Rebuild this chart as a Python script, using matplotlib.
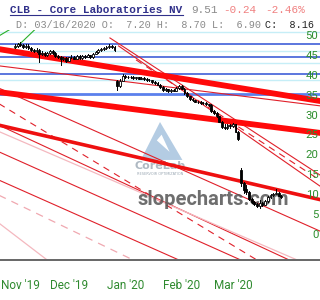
import matplotlib
matplotlib.use("Agg")
import matplotlib.pyplot as plt
from matplotlib.patches import Polygon, Rectangle
import numpy as np

# daily candles, trading-day index 0 = 1 Nov 2019
opens = [47.2, 47.5, 48.0, 47.8, 47.2, 47.6, 47.0, 46.5, 46.3, 46.6,
         45.5, 45.8, 45.2, 45.6, 46.2, 45.8, 45.0, 44.8, 44.2, 44.5,
         43.8, 44.6, 44.8, 44.3, 44.9, 44.4, 45.0, 44.7, 45.2, 44.6,
         45.5, 46.0, 46.4, 46.8, 47.0, 47.3, 47.6, 47.2, 38.8, 37.5,
         38.8, 40.0, 39.8, 39.6, 39.8, 39.5, 39.6, 39.3, 39.5, 39.2,
         39.0, 38.9, 38.5, 38.2, 37.8, 37.2, 36.4, 36.6, 36.2, 36.5,
         36.3, 37.0, 37.5, 36.8, 35.6, 34.8, 34.2, 33.8, 33.5, 33.4,
         33.2, 33.1, 32.9, 32.7, 31.2, 30.6, 29.8, 28.5, 27.2, 26.8,
         27.6, 27.3, 27.8, 26.0, 16.4, 13.0, 11.5, 10.8, 9.0, 8.2,
         7.8, 7.2, 8.1, 7.6, 8.5, 9.5, 10.0, 10.3, 10.6, 9.9]
closes = [47.5, 48.0, 47.8, 47.2, 47.6, 47.0, 46.5, 46.3, 46.6, 45.5,
          45.8, 45.2, 45.6, 46.2, 45.8, 45.0, 44.8, 44.2, 44.5, 43.8,
          44.6, 44.8, 44.3, 44.9, 44.4, 45.0, 44.7, 45.2, 44.6, 45.5,
          46.0, 46.4, 46.8, 47.0, 47.3, 47.6, 47.2, 46.5, 37.5, 38.8,
          40.0, 39.8, 39.6, 39.8, 39.5, 39.6, 39.3, 39.5, 39.2, 39.0,
          38.9, 38.5, 38.2, 37.8, 37.2, 36.4, 36.6, 36.2, 36.5, 36.3,
          37.0, 37.5, 36.8, 35.6, 34.8, 34.2, 33.8, 33.5, 33.4, 33.2,
          33.1, 32.9, 32.7, 31.2, 30.6, 29.8, 28.5, 27.2, 26.8, 27.6,
          27.3, 27.8, 26.0, 24.2, 13.0, 11.2, 10.8, 9.0, 8.2, 7.8,
          7.2, 8.16, 7.6, 8.5, 9.5, 10.0, 10.3, 10.6, 9.9, 9.51]
highs = [48.0, 48.3, 48.4, 48.1, 47.9, 47.9, 47.3, 46.8, 46.9, 46.8,
         46.2, 46.0, 45.9, 46.5, 46.4, 46.0, 45.3, 45.0, 44.8, 44.7,
         44.8, 45.1, 45.0, 45.2, 45.1, 45.3, 45.2, 45.5, 45.3, 45.8,
         46.3, 46.7, 47.1, 47.3, 47.6, 47.9, 47.8, 47.4, 39.0, 39.2,
         40.4, 40.2, 40.0, 40.0, 39.9, 39.8, 39.7, 39.7, 39.6, 39.4,
         39.2, 39.0, 38.6, 38.4, 38.0, 37.4, 36.9, 36.8, 36.7, 36.7,
         37.2, 37.8, 37.6, 36.9, 35.8, 35.0, 34.4, 34.0, 33.7, 33.6,
         33.4, 33.3, 33.0, 32.8, 31.4, 30.8, 30.0, 28.7, 27.8, 27.9,
         27.9, 28.2, 27.9, 26.2, 16.8, 13.3, 12.5, 11.0, 9.2, 8.6,
         8.0, 8.7, 8.3, 8.8, 9.8, 10.3, 10.6, 11.5, 10.7, 10.1]
lows = [46.9, 47.2, 47.5, 47.0, 46.9, 46.8, 46.2, 46.0, 46.0, 43.5,
        45.3, 44.9, 45.0, 45.4, 45.5, 44.8, 44.5, 42.7, 44.0, 43.5,
        43.6, 44.4, 44.1, 44.1, 44.2, 44.3, 44.5, 44.6, 44.4, 44.5,
        45.4, 45.8, 46.2, 46.6, 46.8, 47.1, 47.0, 46.3, 36.4, 37.2,
        38.6, 39.5, 39.4, 39.4, 39.3, 39.3, 39.1, 39.1, 39.0, 38.8,
        38.7, 38.3, 38.0, 37.6, 37.0, 36.2, 36.2, 36.0, 36.0, 36.1,
        36.2, 36.8, 36.6, 35.4, 34.6, 34.0, 33.6, 33.3, 33.2, 33.0,
        32.9, 32.7, 32.5, 31.0, 30.4, 29.6, 28.3, 27.0, 26.6, 26.6,
        27.0, 27.1, 25.8, 23.8, 12.4, 10.5, 10.3, 8.8, 8.0, 7.5,
        7.0, 6.9, 7.4, 7.5, 8.4, 9.4, 9.8, 10.2, 9.8, 9.4]

month_ticks = [0, 20, 41, 62, 81]
month_labels = ["Nov '19", "Dec '19", "Jan '20", "Feb '20", "Mar '20"]
price_ticks = [0, 5, 10, 15, 20, 25, 30, 35, 40, 45, 50]

# horizontal levels: (price, colour, width)
h_levels = [51.0, 48.0, 46.2, 44.7, 43.2, 40.5, 38.9, 35.4]
h_colors = ['#c6eef7', '#3f5fd8', '#c6eef7', '#3f5fd8', '#c6eef7', '#3f5fd8', '#c6eef7', '#5b80ec']
h_widths = [1.0, 1.2, 1.0, 1.2, 1.0, 1.2, 1.0, 2.0]

# trendlines: x0, y0, x1, y1 (day index, price)
thick_lines = [(-6, 46.7, 114, 33.6), (-6, 35.9, 114, 25.6)]
medium_lines = [(-6, 27.6, 114, 8.8)]
thin_lines = [(-6, 42.5, 114, 32.4),
              (35.3, 49.5, 114, 14.8), (38.5, 47.5, 114, 12.0),
              (-6, 36.9, 114, 0.8), (-6, 27.6, 102, -6.3),
              (-6, 20.9, 84, -6.3), (-6, 13.8, 61, -6.3)]
dashed_lines = [(45, 44.0, 114, 13.5), (-6, 33.0, 90, -6.3)]
pink_dashed = [(-6, 10.0, 44, -6.3)]
pink_lines = [(-6, 26.0, 105, -6.3), (-6, 3.0, 12, -6.3)]
green_lines = [(-6, 50.0, -1, 52.0), (-0.5, 46.5, 8, 52.0)]

fig = plt.figure(figsize=(3.2, 3.0), dpi=100)
ax = fig.add_axes([0, 40 / 300, 1, 230 / 300])
ax.set_xlim(-5.58, 113.4)
ax.set_ylim(-6.28, 51.5)

for lvl, c, w in zip(h_levels, h_colors, h_widths):
    ax.axhline(lvl, color=c, lw=w, zorder=1)

for x0, y0, x1, y1 in thin_lines:
    ax.plot([x0, x1], [y0, y1], color='#e0202a', lw=0.8, zorder=2)
for x0, y0, x1, y1 in dashed_lines:
    ax.plot([x0, x1], [y0, y1], color='#e0202a', lw=0.8, ls=(0, (6, 5)), zorder=2)
for x0, y0, x1, y1 in pink_dashed:
    ax.plot([x0, x1], [y0, y1], color='#f0a8b0', lw=0.9, ls=(0, (6, 5)), zorder=2)
for x0, y0, x1, y1 in pink_lines:
    ax.plot([x0, x1], [y0, y1], color='#f4b8bf', lw=0.9, zorder=2)
for x0, y0, x1, y1 in green_lines:
    ax.plot([x0, x1], [y0, y1], color='#2bb02b', lw=0.8, zorder=2)
for x0, y0, x1, y1 in thick_lines:
    ax.plot([x0, x1], [y0, y1], color='#ff0a0a', lw=4.2, zorder=3)
for x0, y0, x1, y1 in medium_lines:
    ax.plot([x0, x1], [y0, y1], color='#ee1010', lw=2.6, zorder=3)

# watermark logo
ax.add_patch(Polygon([[0.50, 0.60], [0.44, 0.435], [0.57, 0.435]], closed=True,
                     transform=ax.transAxes, fc='#a7c3de', ec='none', alpha=0.85, zorder=1.5))
ax.add_patch(Polygon([[0.49, 0.52], [0.53, 0.47], [0.505, 0.545]], closed=True,
                     transform=ax.transAxes, fc='white', ec='none', zorder=1.6))
ax.text(0.5, 0.41, 'CoreLab', transform=ax.transAxes, ha='center', va='center',
        fontsize=8, fontweight='bold', color='#9aa7b3', alpha=0.8, zorder=1.5)
ax.text(0.5, 0.375, 'RESERVOIR OPTIMIZATION', transform=ax.transAxes, ha='center',
        va='center', fontsize=2.5, color='#9aa7b3', zorder=1.5)
ax.text(0.666, 0.265, 'slopecharts.com', transform=ax.transAxes, ha='center', va='center',
        fontsize=14.5, fontweight='bold', family='Roboto', color='#555555', alpha=0.85, zorder=2.5)

# candles
idx = np.arange(len(closes))
for i in idx:
    o, c, h, l = opens[i], closes[i], highs[i], lows[i]
    ax.plot([i, i], [l, h], color='black', lw=0.7, zorder=4)
    up = c >= o
    ax.add_patch(Rectangle((i - 0.35, min(o, c)), 0.7, max(abs(c - o), 0.12),
                           fc='white' if up else 'black', ec='black', lw=0.6, zorder=5))

for p in price_ticks:
    ax.text(0.995, p, str(p), transform=ax.get_yaxis_transform(), ha='right', va='center',
            fontsize=8.2, family='Roboto', color='#2f8f2f', zorder=6)

# month labels; the first one is pinned to the left edge so it is not clipped
ax.set_xticks(month_ticks)
ax.set_xticklabels([''] + month_labels[1:], family='Roboto', fontsize=8.5, color='#2f8a2f')
ax.tick_params(axis='x', length=0, pad=14)
ax.annotate(month_labels[0], xy=(0, 0), xycoords='axes fraction', xytext=(0.5, -14),
            textcoords='offset points', ha='left', va='top', family='Roboto',
            fontsize=8.5, color='#2f8a2f', annotation_clip=False)
ax.set_yticks([])
for s in ['top', 'left', 'right']:
    ax.spines[s].set_visible(False)
ax.spines['bottom'].set_color('#666666')
ax.spines['bottom'].set_linewidth(1.4)

# header
fig.text(10 / 320, 1 - 10 / 300, 'CLB - Core Laboratories NV', family='Liberation Mono',
         fontsize=7.9, fontweight='bold', color='#30308a', va='center')
fig.add_artist(plt.Line2D([10 / 320, 183 / 320], [1 - 15 / 300, 1 - 15 / 300], color='#30308a', lw=0.8))
fig.text(191 / 320, 1 - 10 / 300, '9.51', family='Liberation Mono', fontsize=7.9,
         color='#8a8a8a', va='center')
fig.text(223 / 320, 1 - 10 / 300, '-0.24', family='Liberation Mono', fontsize=7.9,
         color='#f08080', va='center')
fig.text(265 / 320, 1 - 10 / 300, '-2.46%', family='Liberation Mono', fontsize=7.9,
         color='#f08080', va='center')
fig.text(16 / 320, 1 - 25 / 300, 'D: 03/16/2020 O:  7.20 H:  8.70 L:  6.90', family='Liberation Mono',
         fontsize=7.25, color='#8a8a8a', va='center')
fig.text(265 / 320, 1 - 25 / 300, 'C:  8.16', family='Liberation Mono',
         fontsize=7.25, color='#222222', va='center')

fig.savefig('out.png', dpi=100)
